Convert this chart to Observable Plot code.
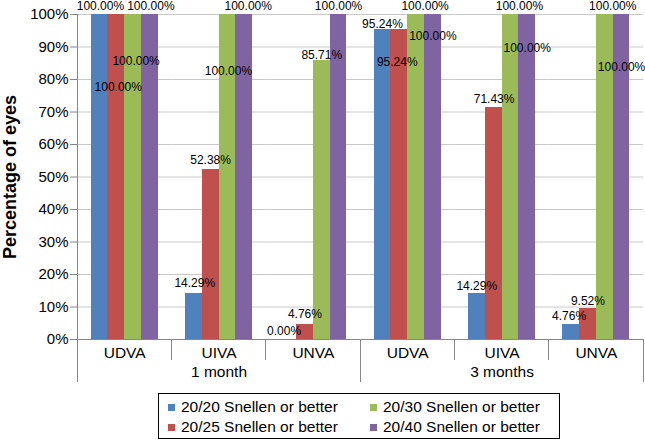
<!DOCTYPE html>
<html><head><meta charset="utf-8">
<script src="https://cdn.jsdelivr.net/npm/d3@7"></script>
<script src="https://cdn.jsdelivr.net/npm/@observablehq/plot@0.6"></script>
<style>
body{margin:0;background:#fff;font-family:"Liberation Sans",Arial,sans-serif;}
#wrap{position:relative;width:645px;height:443px;overflow:hidden;}
#chart svg{display:block;font-family:"Liberation Sans",Arial,sans-serif;}
g[aria-label="y-axis label"]{font-size:18px;font-weight:bold;}
#legend{position:absolute;left:158px;top:393px;width:402px;height:46px;border:1px solid #000;box-sizing:border-box;
  display:grid;grid-template-columns:202px 190px;grid-auto-rows:20px;padding:3px 0 0 9px;font-size:15.5px;color:#000;}
#legend .it{display:flex;align-items:center;white-space:nowrap;}
#legend .sw{width:7px;height:7px;margin-right:6px;flex:none;}
</style></head><body><div id="wrap"><div id="chart"></div><div id="legend"></div></div>
<script>
const periods = ["1 month", "3 months"];
const measures = ["UDVA", "UIVA", "UNVA"];
const seriesNames = ["20/20 Snellen or better", "20/25 Snellen or better", "20/30 Snellen or better", "20/40 Snellen or better"];
// values per series, in group order: 1 month UDVA, UIVA, UNVA, 3 months UDVA, UIVA, UNVA
const v2020 = [100.00, 14.29, 0.00, 95.24, 14.29, 4.76];
const v2025 = [100.00, 52.38, 4.76, 95.24, 71.43, 9.52];
const v2030 = [100.00, 100.00, 85.71, 100.00, 100.00, 100.00];
const v2040 = [100.00, 100.00, 100.00, 100.00, 100.00, 100.00];
const seriesValues = [v2020, v2025, v2030, v2040];
const seriesColors = ["#4F81BD", "#C0504D", "#9BBB59", "#8064A2"];
const yTicks = [0, 10, 20, 30, 40, 50, 60, 70, 80, 90, 100];
// data-label placement offsets [dx, dy] in px relative to bar top centre (as placed in the original)
const labelOffsets = [
  [[1,-8],[1,-10],[-4,-8],[0,-5.5],[0,-6.6],[-2,-7.5]],
  [[2,73],[0,-9],[0,-9.5],[-2,32.5],[0.5,-8],[0,-7]],
  [[3,47],[1,56.5],[0,-5.5],[9,-8],[9,-8],[8,-8]],
  [[1,-8],[4,-8],[0,-8],[0,22],[0,34],[0,53]]
];

const groups = [];
periods.forEach(p => measures.forEach(m => groups.push({key: p + "|" + m, period: p, measure: m})));
const rows = [];
groups.forEach((g, gi) => seriesNames.forEach((s, si) => rows.push({
  key: g.key, series: s, value: seriesValues[si][gi],
  dx: labelOffsets[si][gi][0], dy: labelOffsets[si][gi][1]
})));
const periodRows = periods.map((p, i) => ({key: groups[i * 3 + 1].key, period: p}));

const font = "Liberation Sans, Arial, sans-serif";
const chart = Plot.plot({
  width: 645, height: 390,
  marginLeft: 77, marginRight: 2, marginTop: 14, marginBottom: 51,
  style: {fontFamily: font, background: "#fff", color: "#000"},
  fx: {domain: groups.map(g => g.key), padding: 0, axis: null, round: false},
  x: {domain: seriesNames, paddingInner: 0, paddingOuter: 0.806, axis: null, round: false},
  y: {domain: [0, 100], axis: null},
  color: {domain: seriesNames, range: seriesColors},
  marks: [
    Plot.gridY(yTicks, {stroke: "#c9c9c9", strokeOpacity: 1}),
    Plot.axisY({ticks: yTicks, tickFormat: d => d + "%", tickSize: 7, tickPadding: 2, fontSize: 15,
      stroke: "#868686", fill: "#000", label: "Percentage of eyes", labelAnchor: "center", labelArrow: "none", labelOffset: 74}),
    Plot.barY(rows, {fx: "key", x: "series", y: "value", fill: "series", shapeRendering: "crispEdges"}),
    Plot.ruleY([0], {stroke: "#868686"}),
    ...rows.map(r => Plot.text([r], {fx: "key", x: "series", y: "value", text: d => d.value.toFixed(2) + "%",
      dx: r.dx, dy: r.dy, lineAnchor: "middle", fontSize: 12, fill: "#000"})),
    Plot.text(groups, {fx: "key", text: "measure", frameAnchor: "bottom", dy: 14, lineAnchor: "middle", fontSize: 15.5, fill: "#000"}),
    Plot.text(periodRows, {fx: "key", text: "period", frameAnchor: "bottom", dy: 33, lineAnchor: "middle", fontSize: 15.5, fill: "#000"})
  ]
});
document.getElementById("chart").appendChild(chart);

// category separators and axis line, positioned with Plot's own scales
const fx = chart.scale("fx"), y = chart.scale("y");
const svg = d3.select(chart);
const x0 = fx.apply(fx.domain[0]);
const step = fx.step || fx.bandwidth;
const base = y.apply(0);
const sep = svg.append("g").attr("stroke", "#868686").attr("shape-rendering", "crispEdges");
sep.append("line").attr("x1", x0).attr("x2", x0).attr("y1", y.apply(100)).attr("y2", base);
for (let i = 0; i <= groups.length; i++) {
  const xx = x0 + i * step;
  sep.append("line").attr("x1", xx).attr("x2", xx).attr("y1", base).attr("y2", base + (i % 3 === 0 ? 43 : 21));
}

const legend = d3.select("#legend");
[0, 2, 1, 3].forEach(i => {
  const it = legend.append("div").attr("class", "it");
  it.append("span").attr("class", "sw").style("background", seriesColors[i]);
  it.append("span").text(seriesNames[i]);
});
</script></body></html>
